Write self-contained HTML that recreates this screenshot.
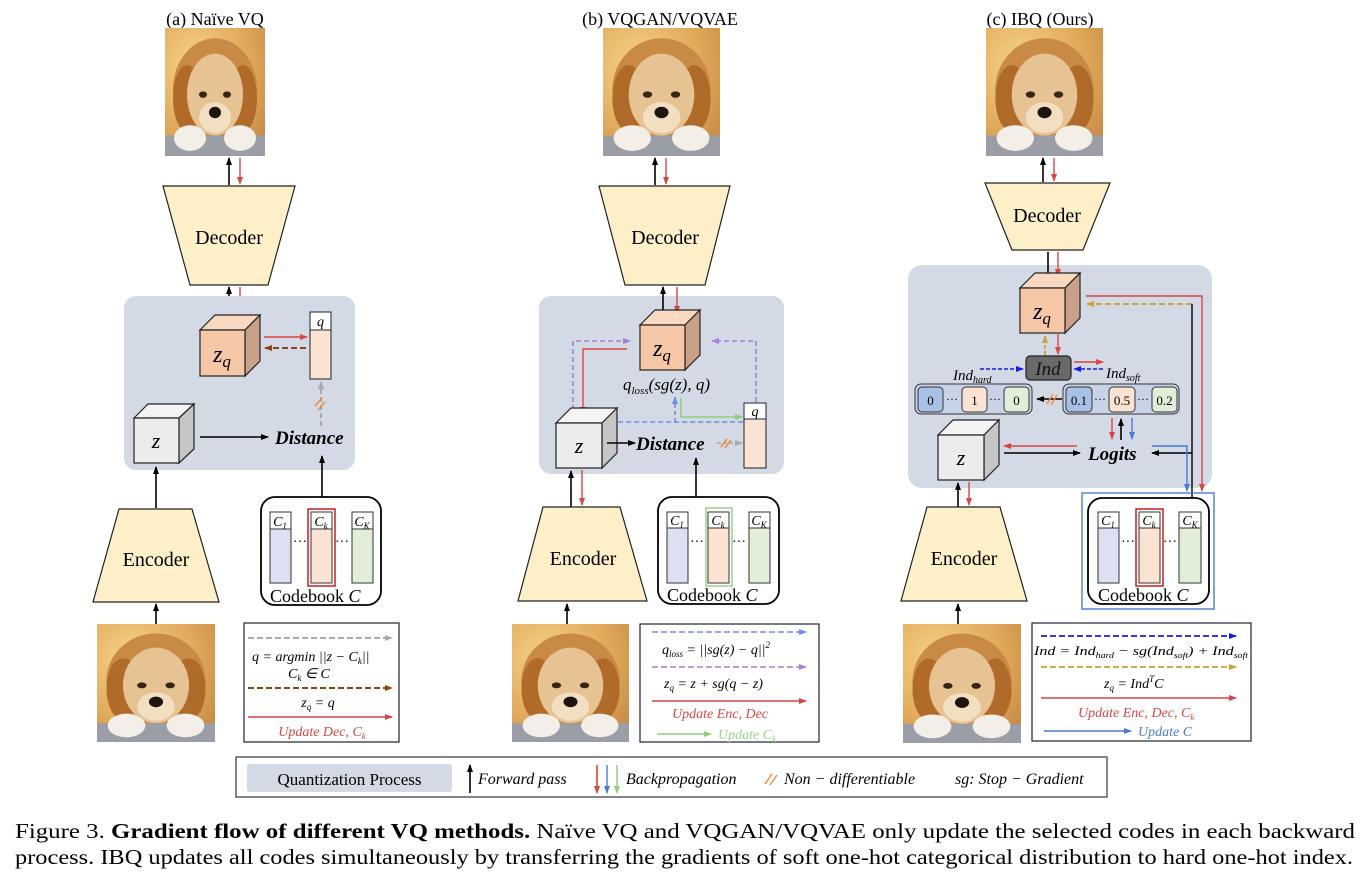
<!DOCTYPE html>
<html><head><meta charset="utf-8"><style>
html,body{margin:0;padding:0;background:#fff;}
svg{display:block;}
text{font-family:"Liberation Serif",serif;}
.m{font-style:italic;}
</style></head><body>
<svg width="1372" height="876" viewBox="0 0 1372 876" xmlns="http://www.w3.org/2000/svg">
<defs>
<marker id="k" markerWidth="8" markerHeight="8" refX="7" refY="4" orient="auto" markerUnits="userSpaceOnUse"><path d="M0,1 L8,4 L0,7 Z" fill="#000"/></marker>
<marker id="r" markerWidth="8" markerHeight="8" refX="7" refY="4" orient="auto" markerUnits="userSpaceOnUse"><path d="M0,1 L8,4 L0,7 Z" fill="#d94545"/></marker>
<marker id="br" markerWidth="8" markerHeight="8" refX="7" refY="4" orient="auto" markerUnits="userSpaceOnUse"><path d="M0,1 L8,4 L0,7 Z" fill="#8b4513"/></marker>
<marker id="g" markerWidth="8" markerHeight="8" refX="7" refY="4" orient="auto" markerUnits="userSpaceOnUse"><path d="M0,1 L8,4 L0,7 Z" fill="#aaa"/></marker>
<marker id="p" markerWidth="8" markerHeight="8" refX="7" refY="4" orient="auto" markerUnits="userSpaceOnUse"><path d="M0,1 L8,4 L0,7 Z" fill="#a77fd6"/></marker>
<marker id="lb" markerWidth="8" markerHeight="8" refX="7" refY="4" orient="auto" markerUnits="userSpaceOnUse"><path d="M0,1 L8,4 L0,7 Z" fill="#6f8de8"/></marker>
<marker id="db" markerWidth="8" markerHeight="8" refX="7" refY="4" orient="auto" markerUnits="userSpaceOnUse"><path d="M0,1 L8,4 L0,7 Z" fill="#1a1ae0"/></marker>
<marker id="gr" markerWidth="8" markerHeight="8" refX="7" refY="4" orient="auto" markerUnits="userSpaceOnUse"><path d="M0,1 L8,4 L0,7 Z" fill="#8fcf7a"/></marker>
<marker id="go" markerWidth="8" markerHeight="8" refX="7" refY="4" orient="auto" markerUnits="userSpaceOnUse"><path d="M0,1 L8,4 L0,7 Z" fill="#c9a232"/></marker>
<marker id="sb" markerWidth="8" markerHeight="8" refX="7" refY="4" orient="auto" markerUnits="userSpaceOnUse"><path d="M0,1 L8,4 L0,7 Z" fill="#4a7bd0"/></marker>
<radialGradient id="bg" cx="0.3" cy="0.3" r="0.9"><stop offset="0" stop-color="#f6d58a"/><stop offset="0.6" stop-color="#e0a85a"/><stop offset="1" stop-color="#c58a46"/></radialGradient>
<symbol id="dog" viewBox="0 0 100 100" preserveAspectRatio="none">
<rect width="100" height="100" fill="url(#bg)"/>
<ellipse cx="50" cy="48" rx="42" ry="40" fill="#c98a45"/>
<ellipse cx="22" cy="55" rx="14" ry="26" fill="#b06a2a"/>
<ellipse cx="78" cy="55" rx="14" ry="26" fill="#b06a2a"/>
<ellipse cx="50" cy="52" rx="28" ry="32" fill="#e7c394"/>
<ellipse cx="50" cy="70" rx="16" ry="12" fill="#f2dfc2"/>
<ellipse cx="38" cy="52" rx="4" ry="2.5" fill="#3a2414"/>
<ellipse cx="62" cy="52" rx="4" ry="2.5" fill="#3a2414"/>
<ellipse cx="50" cy="66" rx="6" ry="4.5" fill="#1e1410"/>
<rect x="0" y="84" width="100" height="16" fill="#9b9ea6"/>
<ellipse cx="25" cy="86" rx="16" ry="10" fill="#f3efe8"/>
<ellipse cx="75" cy="86" rx="16" ry="10" fill="#f3efe8"/>
</symbol>
</defs>

<!-- ============ PANEL A ============ -->
<text x="215" y="25" font-size="18" text-anchor="middle">(a) Naïve VQ</text>
<use href="#dog" x="165" y="28" width="100" height="128"/>
<line x1="229" y1="185" x2="229" y2="158" stroke="#000" stroke-width="1.6" marker-end="url(#k)"/>
<line x1="240" y1="158" x2="240" y2="184" stroke="#d94545" stroke-width="1.4" marker-end="url(#r)"/>
<polygon points="163,186 295,186 268,285 190,285" fill="#fdf0c8" stroke="#222" stroke-width="1.2"/>
<text x="229" y="244" font-size="20" text-anchor="middle">Decoder</text>
<line x1="229" y1="316" x2="229" y2="287" stroke="#000" stroke-width="1.6" marker-end="url(#k)"/>
<line x1="240" y1="287" x2="240" y2="322" stroke="#d94545" stroke-width="1.4" marker-end="url(#r)"/>
<rect x="124" y="296" width="231" height="174" rx="12" fill="#d3dae6"/>
<g stroke="#222" stroke-width="1.2">
<polygon points="200,330 215,315 260,315 245,330" fill="#f9d9c2"/>
<polygon points="245,330 260,315 260,361 245,376" fill="#c9a088"/>
<rect x="200" y="330" width="45" height="46" fill="#f6c7a6"/>
</g>
<text x="222" y="362" font-size="24" class="m" text-anchor="middle">z<tspan font-size="17" dy="5">q</tspan></text>
<rect x="310" y="312" width="21" height="67" fill="#fbe3d4" stroke="#222" stroke-width="1"/>
<rect x="310" y="312" width="21" height="18" fill="#fff" stroke="#223" stroke-width="1"/>
<text x="320.5" y="326" font-size="14" class="m" text-anchor="middle">q</text>
<line x1="264" y1="337" x2="307" y2="337" stroke="#d94545" stroke-width="1.4" marker-end="url(#r)"/>
<line x1="306" y1="348" x2="265" y2="348" stroke="#8b4513" stroke-width="2" stroke-dasharray="6,3" marker-end="url(#br)"/>
<line x1="321" y1="426" x2="321" y2="382" stroke="#aaa" stroke-width="2" stroke-dasharray="5,3" marker-end="url(#g)"/>
<path d="M315,406 L322,398 M318,410 L325,402" stroke="#f08a3c" stroke-width="1.5"/>
<g stroke="#222" stroke-width="1.2">
<polygon points="134,418 148,404 194,404 179,418" fill="#f4f4f4"/>
<polygon points="179,418 194,404 194,449 179,463" fill="#c6c6c6"/>
<rect x="134" y="418" width="45" height="45" fill="#ececec"/>
</g>
<text x="156" y="448" font-size="22" class="m" text-anchor="middle">z</text>
<line x1="200" y1="437" x2="268" y2="437" stroke="#000" stroke-width="1.4" marker-end="url(#k)"/>
<text x="275" y="444" font-size="19" font-weight="bold" class="m">Distance</text>
<line x1="322" y1="497" x2="322" y2="456" stroke="#000" stroke-width="1.6" marker-end="url(#k)"/>
<rect x="261" y="497" width="120" height="108" rx="14" fill="#fff" stroke="#000" stroke-width="1.8"/>
<rect x="270" y="512" width="21" height="71" fill="#dbe1f3" stroke="#333"/>
<rect x="270" y="512" width="21" height="17" fill="#fff" stroke="#333"/>
<text x="280" y="526" font-size="14" class="m" text-anchor="middle">C<tspan font-size="9" dy="3">1</tspan></text>
<rect x="308" y="509" width="27" height="77" fill="none" stroke="#c62020" stroke-width="1.5"/>
<rect x="311" y="512" width="21" height="71" fill="#fbe3d4" stroke="#333"/>
<rect x="311" y="512" width="21" height="17" fill="#fff" stroke="#333"/>
<text x="321" y="526" font-size="14" class="m" text-anchor="middle">C<tspan font-size="9" dy="3">k</tspan></text>
<rect x="352" y="512" width="21" height="71" fill="#e1eed8" stroke="#333"/>
<rect x="352" y="512" width="21" height="17" fill="#fff" stroke="#333"/>
<text x="362" y="526" font-size="14" class="m" text-anchor="middle">C<tspan font-size="9" dy="3">K</tspan></text>
<text x="300" y="546" font-size="14" text-anchor="middle">···</text>
<text x="342" y="546" font-size="14" text-anchor="middle">···</text>
<text x="270" y="602" font-size="18">Codebook <tspan class="m">C</tspan></text>
<line x1="156" y1="508" x2="156" y2="467" stroke="#000" stroke-width="1.6" marker-end="url(#k)"/>
<polygon points="119,509 192,509 219,602 93,602" fill="#fdf0c8" stroke="#222" stroke-width="1.2"/>
<text x="156" y="566" font-size="20" text-anchor="middle">Encoder</text>
<line x1="156" y1="624" x2="156" y2="604" stroke="#000" stroke-width="1.6" marker-end="url(#k)"/>
<use href="#dog" x="97" y="624" width="118" height="118"/>
<rect x="244" y="623" width="155" height="119" fill="#fff" stroke="#222" stroke-width="1.2"/>
<line x1="248" y1="638" x2="392" y2="638" stroke="#aaa" stroke-width="2" stroke-dasharray="6,3" marker-end="url(#g)"/>
<text x="252" y="661" font-size="14" class="m">q = argmin ||z − C<tspan font-size="9" dy="3">k</tspan><tspan dy="-3">||</tspan></text>
<text x="288" y="678" font-size="14" class="m">C<tspan font-size="9" dy="3">k</tspan><tspan dy="-3"> ∈ C</tspan></text>
<line x1="248" y1="688" x2="392" y2="688" stroke="#8b4513" stroke-width="2" stroke-dasharray="6,3" marker-end="url(#br)"/>
<text x="318" y="707" font-size="14" class="m" text-anchor="middle">z<tspan font-size="9" dy="3">q</tspan><tspan dy="-3"> = q</tspan></text>
<line x1="248" y1="717" x2="392" y2="717" stroke="#d94545" stroke-width="1.4" marker-end="url(#r)"/>
<text x="322" y="736" font-size="14" class="m" fill="#d94545" text-anchor="middle">Update Dec, C<tspan font-size="9" dy="3">k</tspan></text>

<!-- ============ PANEL B ============ -->
<text x="660" y="25" font-size="18" text-anchor="middle">(b) VQGAN/VQVAE</text>
<use href="#dog" x="603" y="28" width="117" height="128"/>
<line x1="655" y1="185" x2="655" y2="158" stroke="#000" stroke-width="1.6" marker-end="url(#k)"/>
<line x1="666" y1="158" x2="666" y2="184" stroke="#d94545" stroke-width="1.4" marker-end="url(#r)"/>
<polygon points="599,186 730,186 705,285 625,285" fill="#fdf0c8" stroke="#222" stroke-width="1.2"/>
<text x="665" y="244" font-size="20" text-anchor="middle">Decoder</text>
<rect x="539" y="296" width="245" height="178" rx="12" fill="#d3dae6"/>
<line x1="663" y1="311" x2="663" y2="287" stroke="#000" stroke-width="1.6" marker-end="url(#k)"/>
<line x1="677" y1="287" x2="677" y2="313" stroke="#d94545" stroke-width="1.4" marker-end="url(#r)"/>
<g stroke="#222" stroke-width="1.2">
<polygon points="640,325 655,310 700,310 685,325" fill="#f9d9c2"/>
<polygon points="685,325 700,310 700,355 685,370" fill="#c9a088"/>
<rect x="640" y="325" width="45" height="45" fill="#f6c7a6"/>
</g>
<text x="662" y="356" font-size="24" class="m" text-anchor="middle">z<tspan font-size="17" dy="5">q</tspan></text>
<text x="623" y="390" font-size="17" class="m">q<tspan font-size="11" dy="4">loss</tspan><tspan dy="-4">(sg(z), q)</tspan></text>
<polyline points="573,410 573,341 630,341" fill="none" stroke="#a77fd6" stroke-width="1.6" stroke-dasharray="5,3" marker-end="url(#p)"/>
<polyline points="756,402 756,341 712,341" fill="none" stroke="#a77fd6" stroke-width="1.6" stroke-dasharray="5,3" marker-end="url(#p)"/>
<polyline points="627,349 583,349 583,414" fill="none" stroke="#d94545" stroke-width="1.4" marker-end="url(#r)"/>
<line x1="743" y1="422" x2="612" y2="422" stroke="#6f8de8" stroke-width="1.6" stroke-dasharray="5,3"/>
<line x1="675" y1="422" x2="675" y2="397" stroke="#6f8de8" stroke-width="1.6" stroke-dasharray="4,3" marker-end="url(#lb)"/>
<polyline points="681,398 681,417 742,417" fill="none" stroke="#8fcf7a" stroke-width="1.5" marker-end="url(#gr)"/>
<g stroke="#222" stroke-width="1.2">
<polygon points="556,423 571,408 617,408 602,423" fill="#f4f4f4"/>
<polygon points="602,423 617,408 617,453 602,468" fill="#c6c6c6"/>
<rect x="556" y="423" width="46" height="45" fill="#ececec"/>
</g>
<text x="579" y="453" font-size="22" class="m" text-anchor="middle">z</text>
<line x1="607" y1="443" x2="635" y2="443" stroke="#000" stroke-width="1.4" marker-end="url(#k)"/>
<text x="636" y="450" font-size="19" font-weight="bold" class="m">Distance</text>
<line x1="717" y1="443" x2="742" y2="443" stroke="#aaa" stroke-width="1.6" stroke-dasharray="4,2" marker-end="url(#g)"/>
<path d="M721,447 L727,439 M725,448 L731,440" stroke="#f08a3c" stroke-width="1.5"/>
<rect x="744" y="403" width="22" height="65" fill="#fbe3d4" stroke="#222" stroke-width="1"/>
<rect x="744" y="403" width="22" height="16" fill="#fff" stroke="#223" stroke-width="1"/>
<text x="755" y="416" font-size="14" class="m" text-anchor="middle">q</text>
<line x1="696" y1="497" x2="696" y2="458" stroke="#000" stroke-width="1.6" marker-end="url(#k)"/>
<rect x="658" y="497" width="121" height="107" rx="14" fill="#fff" stroke="#000" stroke-width="1.8"/>
<rect x="667" y="512" width="21" height="71" fill="#dbe1f3" stroke="#333"/>
<rect x="667" y="512" width="21" height="16" fill="#fff" stroke="#333"/>
<text x="677" y="525" font-size="14" class="m" text-anchor="middle">C<tspan font-size="9" dy="3">1</tspan></text>
<rect x="706" y="508" width="26" height="78" fill="none" stroke="#9fd08a" stroke-width="1.5"/>
<rect x="708" y="512" width="21" height="71" fill="#fbe3d4" stroke="#333"/>
<rect x="708" y="512" width="21" height="16" fill="#fff" stroke="#333"/>
<text x="718" y="525" font-size="14" class="m" text-anchor="middle">C<tspan font-size="9" dy="3">k</tspan></text>
<rect x="749" y="512" width="21" height="71" fill="#e1eed8" stroke="#333"/>
<rect x="749" y="512" width="21" height="16" fill="#fff" stroke="#333"/>
<text x="759" y="525" font-size="14" class="m" text-anchor="middle">C<tspan font-size="9" dy="3">K</tspan></text>
<text x="697" y="546" font-size="14" text-anchor="middle">···</text>
<text x="739" y="546" font-size="14" text-anchor="middle">···</text>
<text x="667" y="601" font-size="18">Codebook <tspan class="m">C</tspan></text>
<line x1="571" y1="507" x2="571" y2="471" stroke="#000" stroke-width="1.6" marker-end="url(#k)"/>
<line x1="582" y1="470" x2="582" y2="505" stroke="#d94545" stroke-width="1.4" marker-end="url(#r)"/>
<polygon points="543,507 620,507 647,601 518,601" fill="#fdf0c8" stroke="#222" stroke-width="1.2"/>
<text x="583" y="565" font-size="20" text-anchor="middle">Encoder</text>
<line x1="567" y1="624" x2="567" y2="604" stroke="#000" stroke-width="1.6" marker-end="url(#k)"/>
<use href="#dog" x="512" y="624" width="117" height="118"/>
<rect x="640" y="624" width="179" height="118" fill="#fff" stroke="#223" stroke-width="1.2"/>
<line x1="652" y1="632" x2="806" y2="632" stroke="#6f8de8" stroke-width="1.6" stroke-dasharray="6,3" marker-end="url(#lb)"/>
<text x="662" y="654" font-size="14" class="m">q<tspan font-size="9" dy="3">loss</tspan><tspan dy="-3"> = ||sg(z) − q||</tspan><tspan font-size="9" dy="-6">2</tspan></text>
<line x1="652" y1="667" x2="806" y2="667" stroke="#a77fd6" stroke-width="1.6" stroke-dasharray="6,3" marker-end="url(#p)"/>
<text x="664" y="688" font-size="14" class="m">z<tspan font-size="9" dy="3">q</tspan><tspan dy="-3"> = z + sg(q − z)</tspan></text>
<line x1="652" y1="701" x2="806" y2="701" stroke="#d94545" stroke-width="1.4" marker-end="url(#r)"/>
<text x="672" y="718" font-size="14" class="m" fill="#d94545">Update Enc, Dec</text>
<line x1="657" y1="734" x2="711" y2="734" stroke="#8fcf7a" stroke-width="1.4" marker-end="url(#gr)"/>
<text x="718" y="739" font-size="14" class="m" fill="#9fd08a">Update C<tspan font-size="9" dy="3">k</tspan></text>

<!-- ============ PANEL C ============ -->
<text x="1040" y="25" font-size="18" text-anchor="middle">(c) IBQ (Ours)</text>
<use href="#dog" x="986" y="28" width="117" height="128"/>
<line x1="1043" y1="182" x2="1043" y2="158" stroke="#000" stroke-width="1.6" marker-end="url(#k)"/>
<line x1="1054" y1="158" x2="1054" y2="181" stroke="#d94545" stroke-width="1.4" marker-end="url(#r)"/>
<polygon points="985,183 1110,183 1083,250 1012,250" fill="#fdf0c8" stroke="#222" stroke-width="1.2"/>
<text x="1047" y="222" font-size="20" text-anchor="middle">Decoder</text>
<line x1="1048" y1="265" x2="1048" y2="252" stroke="#000" stroke-width="1.6"/>
<line x1="1058" y1="252" x2="1058" y2="265" stroke="#d94545" stroke-width="1.4"/>
<rect x="908" y="265" width="304" height="223" rx="14" fill="#d3dae6"/>
<line x1="1048" y1="275" x2="1048" y2="265" stroke="#000" stroke-width="1.6"/>
<line x1="1058" y1="265" x2="1058" y2="276" stroke="#d94545" stroke-width="1.4" marker-end="url(#r)"/>
<g stroke="#222" stroke-width="1.2">
<polygon points="1020,288 1035,273 1080,273 1065,288" fill="#f9d9c2"/>
<polygon points="1065,288 1080,273 1080,318 1065,333" fill="#c9a088"/>
<rect x="1020" y="288" width="45" height="45" fill="#f6c7a6"/>
</g>
<text x="1042" y="319" font-size="24" class="m" text-anchor="middle">z<tspan font-size="17" dy="5">q</tspan></text>
<polyline points="1086,296 1202,296 1202,491" fill="none" stroke="#d94545" stroke-width="1.4" marker-end="url(#r)"/>
<line x1="1192" y1="304" x2="1087" y2="304" stroke="#c9a232" stroke-width="1.8" stroke-dasharray="6,3" marker-end="url(#go)"/>
<line x1="1192" y1="304" x2="1192" y2="498" stroke="#000" stroke-width="1.4"/>
<line x1="1192" y1="453" x2="1152" y2="453" stroke="#000" stroke-width="1.4" marker-end="url(#k)"/>
<polyline points="1152,446 1187,446 1187,491" fill="none" stroke="#4a7bd0" stroke-width="1.4" marker-end="url(#sb)"/>
<line x1="1045" y1="355" x2="1045" y2="336" stroke="#c9a232" stroke-width="1.8" stroke-dasharray="4,2" marker-end="url(#go)"/>
<line x1="1058" y1="334" x2="1058" y2="354" stroke="#d94545" stroke-width="1.4" marker-end="url(#r)"/>
<rect x="1026" y="356" width="45" height="24" rx="4" fill="#6a6a6a" stroke="#222" stroke-width="1.2"/>
<text x="1048" y="375" font-size="19" class="m" text-anchor="middle" fill="#111">Ind</text>
<line x1="980" y1="369" x2="1023" y2="369" stroke="#1a1ae0" stroke-width="1.6" stroke-dasharray="4,2" marker-end="url(#db)"/>
<text x="953" y="380" font-size="15" class="m">Ind<tspan font-size="10" dy="3">hard</tspan></text>
<line x1="1074" y1="362" x2="1103" y2="362" stroke="#d94545" stroke-width="1.4" marker-end="url(#r)"/>
<line x1="1103" y1="369" x2="1074" y2="369" stroke="#1a1ae0" stroke-width="1.6" stroke-dasharray="4,2" marker-end="url(#db)"/>
<text x="1106" y="378" font-size="15" class="m">Ind<tspan font-size="10" dy="3">soft</tspan></text>
<rect x="915" y="384" width="117" height="30" rx="6" fill="#c8d3e8" stroke="#333" stroke-width="1"/>
<rect x="918" y="387" width="25" height="25" rx="4" fill="#a9c0e6" stroke="#333"/>
<text x="930.5" y="405" font-size="13" text-anchor="middle">0</text>
<rect x="962" y="387" width="25" height="25" rx="4" fill="#fbe3d4" stroke="#333"/>
<text x="974.5" y="405" font-size="13" text-anchor="middle">1</text>
<rect x="1004" y="387" width="25" height="25" rx="4" fill="#e1eed8" stroke="#333"/>
<text x="1016.5" y="405" font-size="13" text-anchor="middle">0</text>
<text x="952" y="403" font-size="12" text-anchor="middle">···</text>
<text x="995" y="403" font-size="12" text-anchor="middle">···</text>
<line x1="1062" y1="399" x2="1037" y2="399" stroke="#000" stroke-width="1.4" marker-end="url(#k)"/>
<path d="M1047,404 L1053,394 M1051,405 L1057,395" stroke="#f08a3c" stroke-width="1.4"/>
<rect x="1063" y="384" width="116" height="30" rx="6" fill="#c8d3e8" stroke="#333" stroke-width="1"/>
<rect x="1066" y="387" width="26" height="25" rx="4" fill="#a9c0e6" stroke="#333"/>
<text x="1079" y="405" font-size="13" text-anchor="middle">0.1</text>
<rect x="1109" y="387" width="26" height="25" rx="4" fill="#fbe3d4" stroke="#333"/>
<text x="1122" y="405" font-size="13" text-anchor="middle">0.5</text>
<rect x="1152" y="387" width="25" height="25" rx="4" fill="#e1eed8" stroke="#333"/>
<text x="1164.5" y="405" font-size="13" text-anchor="middle">0.2</text>
<text x="1100" y="403" font-size="12" text-anchor="middle">···</text>
<text x="1143" y="403" font-size="12" text-anchor="middle">···</text>
<line x1="1112" y1="418" x2="1112" y2="439" stroke="#d94545" stroke-width="1.4" marker-end="url(#r)"/>
<line x1="1121" y1="440" x2="1121" y2="419" stroke="#000" stroke-width="1.6" marker-end="url(#k)"/>
<line x1="1132" y1="418" x2="1132" y2="439" stroke="#4a7bd0" stroke-width="1.4" marker-end="url(#sb)"/>
<g stroke="#222" stroke-width="1.2">
<polygon points="938,435 953,420 999,420 984,435" fill="#f4f4f4"/>
<polygon points="984,435 999,420 999,465 984,480" fill="#c6c6c6"/>
<rect x="938" y="435" width="46" height="45" fill="#ececec"/>
</g>
<text x="961" y="465" font-size="22" class="m" text-anchor="middle">z</text>
<line x1="1077" y1="446" x2="1004" y2="446" stroke="#d94545" stroke-width="1.4" marker-end="url(#r)"/>
<line x1="1004" y1="453" x2="1080" y2="453" stroke="#000" stroke-width="1.4" marker-end="url(#k)"/>
<text x="1088" y="460" font-size="19" font-weight="bold" class="m">Logits</text>
<rect x="1082" y="493" width="132" height="116" fill="none" stroke="#4a7bd0" stroke-width="1.4"/>
<rect x="1088" y="498" width="121" height="106" rx="14" fill="#fff" stroke="#000" stroke-width="1.8"/>
<rect x="1098" y="512" width="21" height="71" fill="#dbe1f3" stroke="#333"/>
<rect x="1098" y="512" width="21" height="16" fill="#fff" stroke="#333"/>
<text x="1108" y="525" font-size="14" class="m" text-anchor="middle">C<tspan font-size="9" dy="3">1</tspan></text>
<rect x="1136" y="509" width="27" height="77" fill="none" stroke="#c62020" stroke-width="1.5"/>
<rect x="1139" y="512" width="21" height="71" fill="#fbe3d4" stroke="#333"/>
<rect x="1139" y="512" width="21" height="16" fill="#fff" stroke="#333"/>
<text x="1149" y="525" font-size="14" class="m" text-anchor="middle">C<tspan font-size="9" dy="3">k</tspan></text>
<rect x="1179" y="512" width="22" height="71" fill="#e1eed8" stroke="#333"/>
<rect x="1179" y="512" width="22" height="16" fill="#fff" stroke="#333"/>
<text x="1190" y="525" font-size="14" class="m" text-anchor="middle">C<tspan font-size="9" dy="3">K</tspan></text>
<text x="1128" y="546" font-size="14" text-anchor="middle">···</text>
<text x="1170" y="546" font-size="14" text-anchor="middle">···</text>
<text x="1098" y="601" font-size="18">Codebook <tspan class="m">C</tspan></text>
<line x1="958" y1="507" x2="958" y2="483" stroke="#000" stroke-width="1.6" marker-end="url(#k)"/>
<line x1="969" y1="482" x2="969" y2="505" stroke="#d94545" stroke-width="1.4" marker-end="url(#r)"/>
<polygon points="927,507 1000,507 1027,601 901,601" fill="#fdf0c8" stroke="#222" stroke-width="1.2"/>
<text x="964" y="565" font-size="20" text-anchor="middle">Encoder</text>
<line x1="958" y1="624" x2="958" y2="604" stroke="#000" stroke-width="1.6" marker-end="url(#k)"/>
<use href="#dog" x="903" y="624" width="118" height="119"/>
<rect x="1032" y="623" width="219" height="118" fill="#fff" stroke="#223" stroke-width="1.2"/>
<line x1="1041" y1="636" x2="1236" y2="636" stroke="#1a1ae0" stroke-width="1.8" stroke-dasharray="6,3" marker-end="url(#db)"/>
<text x="1034" y="655" font-size="13" class="m" textLength="214" lengthAdjust="spacingAndGlyphs">Ind = Ind<tspan font-size="8" dy="3">hard</tspan><tspan dy="-3"> − sg(Ind</tspan><tspan font-size="8" dy="3">soft</tspan><tspan dy="-3">) + Ind</tspan><tspan font-size="8" dy="3">soft</tspan></text>
<line x1="1041" y1="667" x2="1236" y2="667" stroke="#c9a232" stroke-width="1.8" stroke-dasharray="6,3" marker-end="url(#go)"/>
<text x="1104" y="688" font-size="14" class="m">z<tspan font-size="9" dy="3">q</tspan><tspan dy="-3"> = Ind</tspan><tspan font-size="9" dy="-6">T</tspan><tspan dy="6">C</tspan></text>
<line x1="1041" y1="698" x2="1236" y2="698" stroke="#d94545" stroke-width="1.4" marker-end="url(#r)"/>
<text x="1078" y="717" font-size="14" class="m" fill="#d94545">Update Enc, Dec, C<tspan font-size="9" dy="3">k</tspan></text>
<line x1="1044" y1="731" x2="1131" y2="731" stroke="#4a7bd0" stroke-width="1.4" marker-end="url(#sb)"/>
<text x="1138" y="736" font-size="14" class="m" fill="#4a7bd0">Update C</text>

<!-- ============ LEGEND BAR ============ -->
<rect x="236" y="757" width="871" height="40" fill="#fff" stroke="#334" stroke-width="1.2"/>
<rect x="247" y="764" width="205" height="28" rx="3" fill="#d3dae6"/>
<text x="349.5" y="785" font-size="17" text-anchor="middle">Quantization Process</text>
<line x1="470" y1="793" x2="470" y2="765" stroke="#000" stroke-width="1.6" marker-end="url(#k)"/>
<text x="478" y="784" font-size="16" class="m">Forward pass</text>
<line x1="597" y1="765" x2="597" y2="793" stroke="#e02020" stroke-width="1.4" marker-end="url(#r)"/>
<line x1="607" y1="765" x2="607" y2="793" stroke="#4a7bd0" stroke-width="1.4" marker-end="url(#sb)"/>
<line x1="617" y1="765" x2="617" y2="793" stroke="#8fcf7a" stroke-width="1.4" marker-end="url(#gr)"/>
<text x="626" y="784" font-size="16" class="m">Backpropagation</text>
<path d="M765,784 L772,774 M770,785 L777,775" stroke="#f08a3c" stroke-width="1.5"/>
<text x="784" y="784" font-size="16" class="m">Non − differentiable</text>
<text x="955" y="784" font-size="16" class="m">sg: Stop − Gradient</text>

<!-- ============ CAPTION ============ -->
<text x="15" y="838" font-size="21" textLength="1340" lengthAdjust="spacingAndGlyphs">Figure 3.  <tspan font-weight="bold">Gradient flow of different VQ methods.</tspan>  Naïve VQ and VQGAN/VQVAE only update the selected codes in each backward</text>
<text x="15" y="864" font-size="21" textLength="1338" lengthAdjust="spacingAndGlyphs">process. IBQ updates all codes simultaneously by transferring the gradients of soft one-hot categorical distribution to hard one-hot index.</text>
</svg>
</body></html>
